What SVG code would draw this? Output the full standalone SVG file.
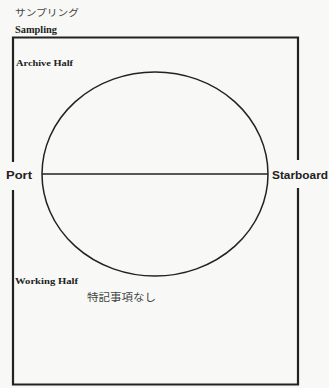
<svg xmlns="http://www.w3.org/2000/svg" width="329" height="388" viewBox="0 0 329 388">
<style>
.serif{font-family:"Liberation Serif","Noto Sans CJK JP",serif;fill:#222;font-weight:bold}
.sans{font-family:"Liberation Sans",sans-serif;fill:#222;font-weight:bold}
.jp{font-family:"Noto Sans CJK JP",sans-serif;fill:#444}
.ln{stroke:#222;fill:none}
</style>
<rect width="329" height="388" fill="#f8f9f6"/>
<g id="title">
<text class="jp" x="15" y="16" font-size="9.5" textLength="64" lengthAdjust="spacingAndGlyphs">サンプリング</text>
<text class="serif" x="15" y="33" font-size="9.5" textLength="42" lengthAdjust="spacingAndGlyphs">Sampling</text>
</g>
<g id="frame">
<path class="ln" stroke-width="2.2" d="M13,162 V37.5 H298 V160 M298,188 V384.5 H13 V190"/>
</g>
<g id="core">
<ellipse class="ln" stroke-width="1.5" cx="155" cy="174" rx="113" ry="102"/>
<line class="ln" stroke-width="1.3" x1="42" y1="174" x2="268" y2="174"/>
</g>
<g id="labels">
<text class="serif" x="16" y="66" font-size="9" textLength="57" lengthAdjust="spacingAndGlyphs">Archive Half</text>
<text class="serif" x="15" y="284" font-size="9" textLength="63" lengthAdjust="spacingAndGlyphs">Working Half</text>
<text class="jp" x="87" y="301" font-size="10.5" textLength="69" lengthAdjust="spacingAndGlyphs">特記事項なし</text>
<text class="sans" x="6" y="179" font-size="10.5" textLength="26" lengthAdjust="spacingAndGlyphs">Port</text>
<text class="sans" x="272" y="179" font-size="10.5" textLength="56" lengthAdjust="spacingAndGlyphs">Starboard</text>
</g>
</svg>
